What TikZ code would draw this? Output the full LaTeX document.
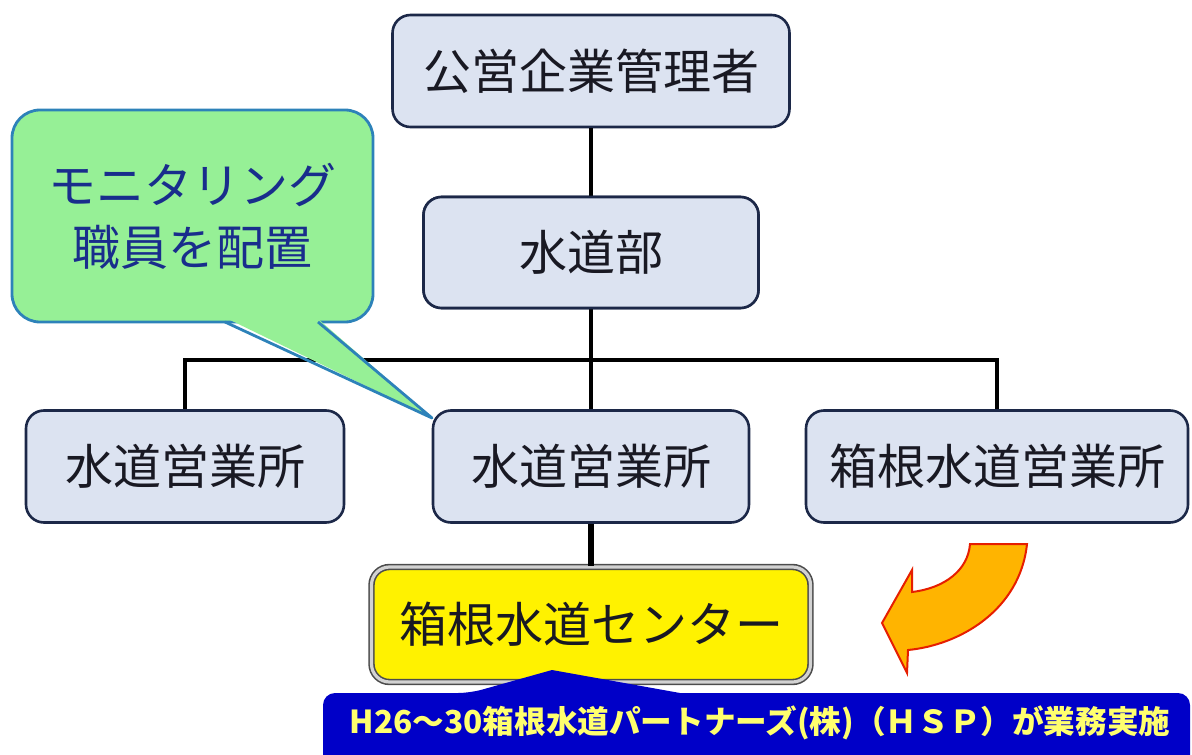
\documentclass[tikz,border=0pt]{standalone}
\usepackage{fontspec}
\setmainfont{Noto Sans CJK JP}
\definecolor{boxfill}{RGB}{220,227,241}
\definecolor{boxline}{RGB}{28,40,72}
\definecolor{boxtext}{RGB}{25,25,35}
\definecolor{calfill}{RGB}{150,240,150}
\definecolor{calline}{RGB}{45,130,185}
\definecolor{caltext}{RGB}{25,45,140}
\definecolor{banner}{RGB}{0,0,200}
\definecolor{bantext}{RGB}{255,255,110}
\definecolor{arrfill}{RGB}{255,180,0}
\definecolor{arrline}{RGB}{230,30,0}
\begin{document}
\begin{tikzpicture}[x=0.5pt,y=-0.5pt,
  orgbox/.style={draw=boxline,fill=boxfill,line width=1.3pt,rounded corners=9pt,
    minimum height=56pt,inner sep=0pt,font=\fontsize{24}{28}\selectfont,text=boxtext},
  conn/.style={line width=2pt,draw=black},
  callout/.style={draw=calline,fill=calfill,line width=1.4pt,rounded corners=14pt,
    inner sep=0pt,align=center,font=\fontsize{24}{31}\selectfont,text=caltext},
  centerbox/.style={draw=gray!60!black,double=gray!35,double distance=1.6pt,line width=0.8pt,
    fill=yellow,rounded corners=9pt,inner sep=0pt,font=\fontsize{24}{28}\selectfont,text=boxtext},
  bantxt/.style={font=\fontsize{15.8}{20}\selectfont\bfseries,text=bantext,inner sep=0pt}
]
\useasboundingbox (0,0) rectangle (1192,754);

% org boxes
\node[orgbox,minimum width=198.5pt] (top) at (591,71) {公営企業管理者};
\node[orgbox,minimum width=167.5pt,minimum height=55.5pt] (bu) at (591,252.5) {水道部};
\node[orgbox,minimum width=159pt] (left) at (185,466.5) {水道営業所};
\node[orgbox,minimum width=158pt] (mid) at (591,466.5) {水道営業所};
\node[orgbox,minimum width=191pt] (right) at (997,466.5) {箱根水道営業所};
\node[centerbox,minimum width=219.5pt,minimum height=57.5pt] (ctr) at (591,624.5) {箱根水道センター};

% connectors
\coordinate (bus) at (591,360);
\draw[conn] (top.south) -- (bu.south);
\draw[conn] (bu.south) -- (bus);
\draw[conn] (left.north) |- (bus) -| (right.north);
\draw[conn] (bus) -- (mid.north);
\draw[line width=3pt] (mid.south) -- (ctr.north);
% redraw box over connector
\node[orgbox,minimum width=167.5pt,minimum height=55.5pt] at (591,252.5) {水道部};

% callout
\node[callout,minimum width=180.5pt,minimum height=106pt] (mon) at (192.5,216) {モニタリング\\職員を配置};
\coordinate (tip) at (432,418);
\fill[calfill] (226,318) -- (tip) -- (317,318) -- cycle;
\draw[calline,line width=1.4pt,line join=round] (225,322) -- (tip) -- (318,322);

% banner
\coordinate (peak) at (552,670);
\fill[banner,rounded corners=6pt] (323,770) -- (323,693) -- (470,693) [sharp corners] -- (peak) -- (680,693) [rounded corners=6pt] -- (1190,693) -- (1190,770) -- cycle;
\node[bantxt] (hsp) at (760,723) {H26～30箱根水道パートナーズ(株)（ＨＳＰ）が業務実施};

% curved arrow
\filldraw[fill=arrfill,draw=arrline,line width=1pt,line join=miter]
  (970,544) -- (1027,544)
  .. controls (1020,610) and (960,645) .. (908,650)
  -- (907,673) -- (882,623) -- (912,570) -- (912,592)
  .. controls (945,588) and (968,570) .. (970,544) -- cycle;
\end{tikzpicture}
\end{document}
